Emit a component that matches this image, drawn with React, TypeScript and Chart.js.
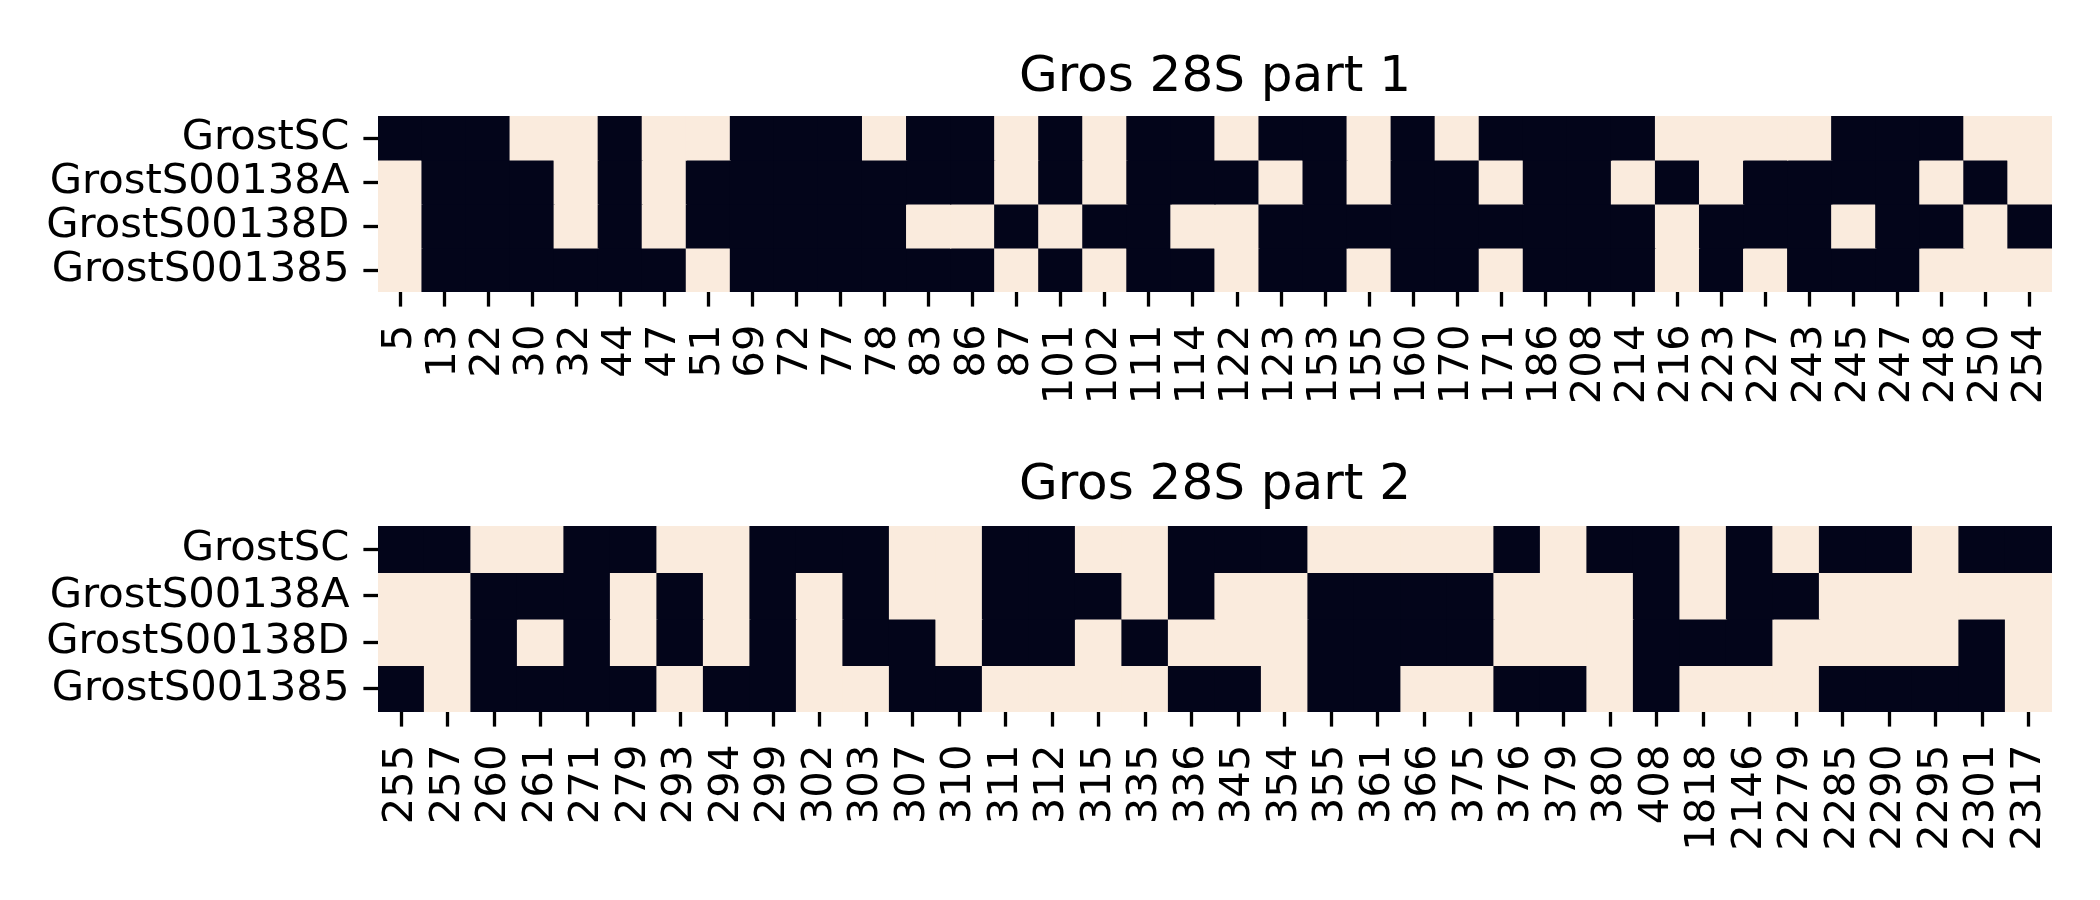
import React, { useEffect, useRef } from "react";
import { Chart, registerables } from "chart.js";

Chart.register(...registerables);

const ROWS = ["GrostSC", "GrostS00138A", "GrostS00138D", "GrostS001385"];

const COLS1 = ["5", "13", "22", "30", "32", "44", "47", "51", "69", "72", "77", "78", "83", "86", "87", "101", "102", "111", "114", "122", "123", "153", "155", "160", "170", "171", "186", "208", "214", "216", "223", "227", "243", "245", "247", "248", "250", "254"];
const P1_GrostSC =      [1,1,1,0,0,1,0,0,1,1,1,0,1,1,0,1,0,1,1,0,1,1,0,1,0,1,1,1,1,0,0,0,0,1,1,1,0,0];
const P1_GrostS00138A = [0,1,1,1,0,1,0,1,1,1,1,1,1,1,0,1,0,1,1,1,0,1,0,1,1,0,1,1,0,1,0,1,1,1,1,0,1,0];
const P1_GrostS00138D = [0,1,1,1,0,1,0,1,1,1,1,1,0,0,1,0,1,1,0,0,1,1,1,1,1,1,1,1,1,0,1,1,1,0,1,1,0,1];
const P1_GrostS001385 = [0,1,1,1,1,1,1,0,1,1,1,1,1,1,0,1,0,1,1,0,1,1,0,1,1,0,1,1,1,0,1,0,1,1,1,0,0,0];

const COLS2 = ["255", "257", "260", "261", "271", "279", "293", "294", "299", "302", "303", "307", "310", "311", "312", "315", "335", "336", "345", "354", "355", "361", "366", "375", "376", "379", "380", "408", "1818", "2146", "2279", "2285", "2290", "2295", "2301", "2317"];
const P2_GrostSC =      [1,1,0,0,1,1,0,0,1,1,1,0,0,1,1,0,0,1,1,1,0,0,0,0,1,0,1,1,0,1,0,1,1,0,1,1];
const P2_GrostS00138A = [0,0,1,1,1,0,1,0,1,0,1,0,0,1,1,1,0,1,0,0,1,1,1,1,0,0,0,1,0,1,1,0,0,0,0,0];
const P2_GrostS00138D = [0,0,1,0,1,0,1,0,1,0,1,1,0,1,1,0,1,0,0,0,1,1,1,1,0,0,0,1,1,1,0,0,0,0,1,0];
const P2_GrostS001385 = [1,0,1,1,1,1,0,1,1,0,0,1,1,0,0,0,0,1,1,0,1,1,0,0,1,1,0,1,0,0,0,1,1,1,1,0];

const TITLE1 = "Gros 28S part 1";
const TITLE2 = "Gros 28S part 2";

const DARK = "#03051A";
const LIGHT = "#FAEBDD";
const FONT = "'DejaVu Sans', sans-serif";

type Spec = {
  title: string;
  cols: string[];
  rows: number[][];
  titlePadTop: number;
  titlePadBottom: number;
  xAxisHeight: number;
};

function makeConfig(spec: Spec): any {
  const datasets = spec.rows.map((vals, r) => ({
    label: ROWS[r],
    data: spec.cols.map(() => [r, r + 1]),
    backgroundColor: vals.map((v) => (v ? DARK : LIGHT)),
    borderWidth: 0,
    barPercentage: 1,
    categoryPercentage: 1,
    grouped: false,
    inflateAmount: 0.6,
  }));
  return {
    type: "bar",
    data: { labels: spec.cols, datasets },
    options: {
      responsive: false,
      animation: false,
      events: [],
      layout: { padding: { left: 0, right: 48, top: 0, bottom: 0 } },
      plugins: {
        legend: { display: false },
        tooltip: { enabled: false },
        title: {
          display: true,
          fullSize: false,
          text: spec.title,
          color: "#000",
          font: { family: FONT, size: 50, weight: "normal", lineHeight: 1.2 },
          padding: { top: spec.titlePadTop, bottom: spec.titlePadBottom },
        },
      },
      scales: {
        x: {
          type: "category",
          offset: true,
          border: { display: false },
          grid: {
            display: true,
            offset: false,
            drawOnChartArea: false,
            drawTicks: true,
            tickLength: 14.6,
            tickWidth: 3.3,
            tickColor: "#000",
          },
          ticks: {
            autoSkip: false,
            minRotation: 90,
            maxRotation: 90,
            padding: 18,
            color: "#000",
            font: { family: FONT, size: 41.7 },
          },
          afterFit: (s: any) => {
            s.height = spec.xAxisHeight;
          },
        },
        y: {
          type: "linear",
          min: 0,
          max: 4,
          reverse: true,
          border: { display: false },
          grid: {
            display: true,
            drawOnChartArea: false,
            drawTicks: true,
            tickLength: 14.6,
            tickWidth: 3.3,
            tickColor: "#000",
          },
          afterBuildTicks: (axis: any) => {
            axis.ticks = [0.5, 1.5, 2.5, 3.5].map((v) => ({ value: v }));
          },
          ticks: {
            autoSkip: false,
            padding: 14,
            color: "#000",
            font: { family: FONT, size: 41.7 },
            callback: (value: number) => ROWS[Math.round(value - 0.5)] ?? "",
          },
          afterFit: (s: any) => {
            s.width = 378;
          },
        },
      },
    },
  };
}

function HeatCanvas({ spec, top }: { spec: Spec; top: number }) {
  const ref = useRef<HTMLCanvasElement | null>(null);
  useEffect(() => {
    if (!ref.current) return;
    const chart = new Chart(ref.current, makeConfig(spec));
    return () => chart.destroy();
  }, []);
  return (
    <canvas
      ref={ref}
      width={2100}
      height={450}
      style={{ position: "absolute", left: 0, top, width: 2100, height: 450 }}
    />
  );
}

export default function App() {
  const spec1: Spec = {
    title: TITLE1,
    cols: COLS1,
    rows: [P1_GrostSC, P1_GrostS00138A, P1_GrostS00138D, P1_GrostS001385],
    titlePadTop: 48,
    titlePadBottom: 8,
    xAxisHeight: 450 - 292,
  };
  const spec2: Spec = {
    title: TITLE2,
    cols: COLS2,
    rows: [P2_GrostSC, P2_GrostS00138A, P2_GrostS00138D, P2_GrostS001385],
    titlePadTop: 6,
    titlePadBottom: 10,
    xAxisHeight: 450 - 262,
  };
  return (
    <div
      style={{
        position: "absolute",
        left: 0,
        top: 0,
        width: 2100,
        height: 900,
        background: "#fff",
        overflow: "hidden",
      }}
    >
      <HeatCanvas spec={spec1} top={0} />
      <HeatCanvas spec={spec2} top={450} />
    </div>
  );
}
